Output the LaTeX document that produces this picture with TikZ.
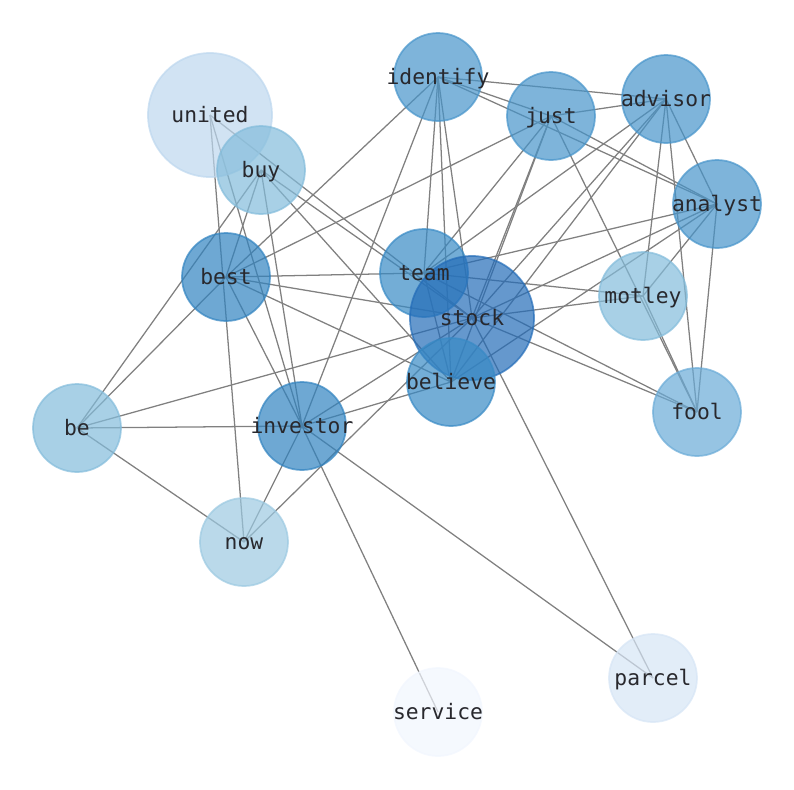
\documentclass[tikz,border=0pt]{standalone}
\usepackage{fontspec}
\newfontfamily\lblfont{DejaVu Sans Mono}
\pgfdeclarelayer{edges}
\pgfdeclarelayer{balls}
\pgfsetlayers{edges,balls,main}
\definecolor{cStock}{RGB}{35,108,184}
\definecolor{cDark}{RGB}{49,131,192}
\definecolor{cTeam}{RGB}{56,138,197}
\definecolor{cMid}{RGB}{71,148,202}
\definecolor{cFool}{RGB}{106,171,215}
\definecolor{cLight}{RGB}{131,188,219}
\definecolor{cNow}{RGB}{156,201,225}
\definecolor{cUnited}{RGB}{189,215,238}
\definecolor{cParcel}{RGB}{214,229,245}
\definecolor{cService}{RGB}{241,246,254}
\definecolor{edgegray}{RGB}{128,128,128}
\definecolor{txt}{RGB}{40,40,45}
\tikzset{
  ball/.style={circle, inner sep=0pt, minimum size=66pt, fill=#1, draw=#1,
    fill opacity=0.7, draw opacity=0.7, line width=1.3pt},
  bigball/.style={ball=#1, minimum size=93pt},
  lbl/.style={font=\lblfont\fontsize{16pt}{18pt}\selectfont, text=txt, anchor=base, inner sep=0pt},
  edge/.style={draw=edgegray, line width=0.95pt}
}
\begin{document}
\begin{tikzpicture}[x=0.75pt, y=-0.75pt]
\useasboundingbox (0,0) rectangle (794,790);
\begin{pgfonlayer}{balls}
\node[bigball=cUnited] (united) at (210,115) {};
\node[ball=cLight] (buy) at (261,170) {};
\node[ball=cMid] (identify) at (438,77) {};
\node[ball=cMid] (just) at (551,116) {};
\node[ball=cMid] (advisor) at (666,99) {};
\node[ball=cMid] (analyst) at (717,204) {};
\node[ball=cDark] (best) at (226,277) {};
\node[ball=cTeam] (team) at (424,273) {};
\node[bigball=cStock] (stock) at (472,318) {};
\node[ball=cTeam] (believe) at (451,382) {};
\node[ball=cLight] (motley) at (643,296) {};
\node[ball=cLight] (be) at (77,428) {};
\node[ball=cDark] (investor) at (302,426) {};
\node[ball=cFool] (fool) at (697,412) {};
\node[ball=cNow] (now) at (244,542) {};
\node[ball=cParcel] (parcel) at (653,678) {};
\node[ball=cService] (service) at (438,712) {};
\end{pgfonlayer}
\foreach \n in {united,buy,identify,just,advisor,analyst,best,team,stock,believe,motley,be,investor,fool,now,parcel,service}
  \node[lbl] (\n-l) at ([yshift=-5.6pt]\n.center) {\n};
\begin{pgfonlayer}{edges}
\foreach \a/\b in {united/stock, united/now, united/investor,
  buy/be, buy/best, buy/investor, buy/believe, buy/stock,
  best/be, best/identify, best/just, best/team, best/stock, best/believe, best/investor,
  be/stock, be/investor, be/now,
  investor/stock, investor/believe, investor/now, investor/parcel, investor/service, investor/identify,
  now/stock,
  identify/advisor, identify/just, identify/analyst, identify/team, identify/believe, identify/stock,
  just/advisor, just/analyst, just/fool, just/stock, just/believe, just/team,
  advisor/team, advisor/stock, advisor/believe, advisor/analyst, advisor/motley, advisor/fool,
  analyst/team, analyst/stock, analyst/believe, analyst/motley, analyst/fool,
  team/motley, team/fool, team/believe,
  stock/motley, stock/fool, stock/parcel,
  motley/fool}
  \draw[edge] (\a.center) -- (\b.center);
\end{pgfonlayer}
\end{tikzpicture}
\end{document}
